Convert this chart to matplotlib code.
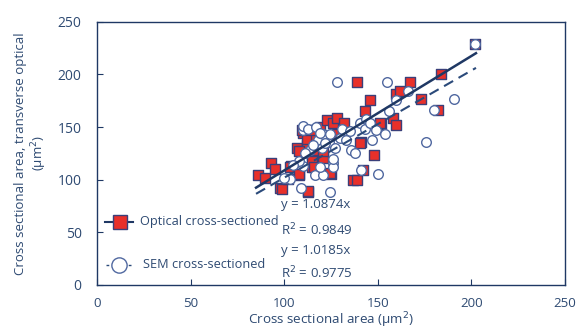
import numpy as np
import matplotlib.pyplot as plt

plt.rcParams['font.family'] = ['Open Sans', 'DejaVu Sans']

# optical cross-sectioned (red squares)
opt_x = [86, 90, 93, 95, 98, 99, 102, 103.5, 108, 113, 115, 107, 109, 112, 113, 110,
         112, 117, 119, 123, 126, 128, 132, 115, 115, 117, 121, 125, 128, 137, 139, 139,
         141, 142, 143, 146, 148, 152, 158, 160, 160, 162, 167, 173, 182, 184, 202,
         117, 119, 108, 121, 103, 108, 116, 124.5, 113, 140.5, 151, 115.5, 109.5]
opt_y = [104, 102, 116, 110, 92, 91, 101, 113, 104, 88, 112, 130, 127, 133, 141, 144,
         139, 147, 150, 157, 154, 159, 154, 123, 118, 128, 121, 105, 143, 100, 100, 193,
         136, 109, 165, 176, 123, 153, 159, 152, 181, 184, 193, 177, 166, 200, 229,
         141, 135, 127, 127, 112.5, 105, 112.5, 106, 89, 135, 154, 147, 147]

# SEM cross-sectioned (open circles)
sem_x = [103, 109, 110, 110, 110, 113, 117, 116.5, 121, 124.5, 126, 126, 126, 118, 121,
         124, 127, 130, 133, 136, 138, 128, 140.5, 143, 144, 146, 141, 147, 149, 150,
         154, 155, 156, 160, 166, 176, 180, 191, 202, 120, 114, 108, 111, 105, 119, 131,
         135, 100, 119, 124.5, 115.5, 122]
sem_y = [101, 92, 113, 147, 151, 148, 150, 104, 104, 88, 116, 112, 120, 138, 143,
         136, 130, 140, 138, 128, 125, 193, 154, 148, 158, 154, 109, 138, 147, 105,
         143, 193, 165, 176, 184, 136, 166, 177, 229, 130, 128, 118, 125, 114, 112, 148,
         146, 102, 144, 143, 133, 135]

slope_opt = 1.0874
slope_sem = 1.0185
r2_opt = 0.9849
r2_sem = 0.9775

navy = '#1f3864'
txt = '#2e4a72'
red = '#e8302a'
circ_edge = '#5068a0'
sq_edge = '#3a3f7a'

fig = plt.figure(figsize=(5.77, 3.36), dpi=100)
ax = fig.add_axes([0.168, 0.152, 0.811, 0.783])

ax.scatter(sem_x, sem_y, s=48, marker='o', facecolor='white', edgecolor=circ_edge,
           linewidth=1.0, zorder=3)
ax.scatter(opt_x, opt_y, s=55, marker='s', facecolor=red, edgecolor=sq_edge,
           linewidth=1.0, zorder=2)

xl = np.array([85, 202.5])
ax.plot(xl, slope_opt * xl, color=navy, lw=1.8, zorder=4)
ax.plot(xl, slope_sem * xl, color='#2b4a7a', lw=1.5, ls=(0, (5, 3)), zorder=4)

# legend handles
ax.plot([4.5, 19.5], [60, 60], color=navy, lw=1.5)
ax.plot([12.5], [60], marker='s', ms=10, mfc=red, mec=sq_edge, mew=1)
ax.plot([5, 19.5], [19, 19], color='#2b4a7a', lw=1, ls=(0, (2, 2)))
ax.plot([12], [19], marker='o', ms=11, mfc='white', mec=circ_edge, mew=1)
ax.text(23, 60, 'Optical cross-sectioned', color=txt, fontsize=9.2, va='center')
ax.text(24.5, 19, 'SEM cross-sectioned', color=txt, fontsize=9.2, va='center')

ax.text(98.5, 76, 'y = %.4fx' % slope_opt, color=txt, fontsize=9.5, va='center')
ax.text(98.5, 52.5, 'R$^2$ = %.4f' % r2_opt, color=txt, fontsize=9.5, va='center')
ax.text(98.5, 32.5, 'y = %.4fx' % slope_sem, color=txt, fontsize=9.5, va='center')
ax.text(98.5, 11.5, 'R$^2$ = %.4f' % r2_sem, color=txt, fontsize=9.5, va='center')

ax.set_xlim(0, 250)
ax.set_ylim(0, 250)
ax.set_xticks(np.arange(0, 251, 50))
ax.set_yticks(np.arange(0, 251, 50))
ax.tick_params(direction='in', colors=navy, labelcolor=txt, labelsize=10, length=4)
ax.tick_params(axis='x', pad=9, labelsize=9.5)
ax.tick_params(axis='y', pad=11)
for s in ax.spines.values():
    s.set_color(navy)
    s.set_linewidth(1.0)

ax.set_xlabel('Cross sectional area (µm$^2$)', color=txt, fontsize=9.7, labelpad=0)
ax.set_ylabel('Cross sectional area, transverse optical\n(µm$^2$)', color=txt,
              fontsize=9.5, labelpad=6)

fig.savefig('out.png', dpi=100)
